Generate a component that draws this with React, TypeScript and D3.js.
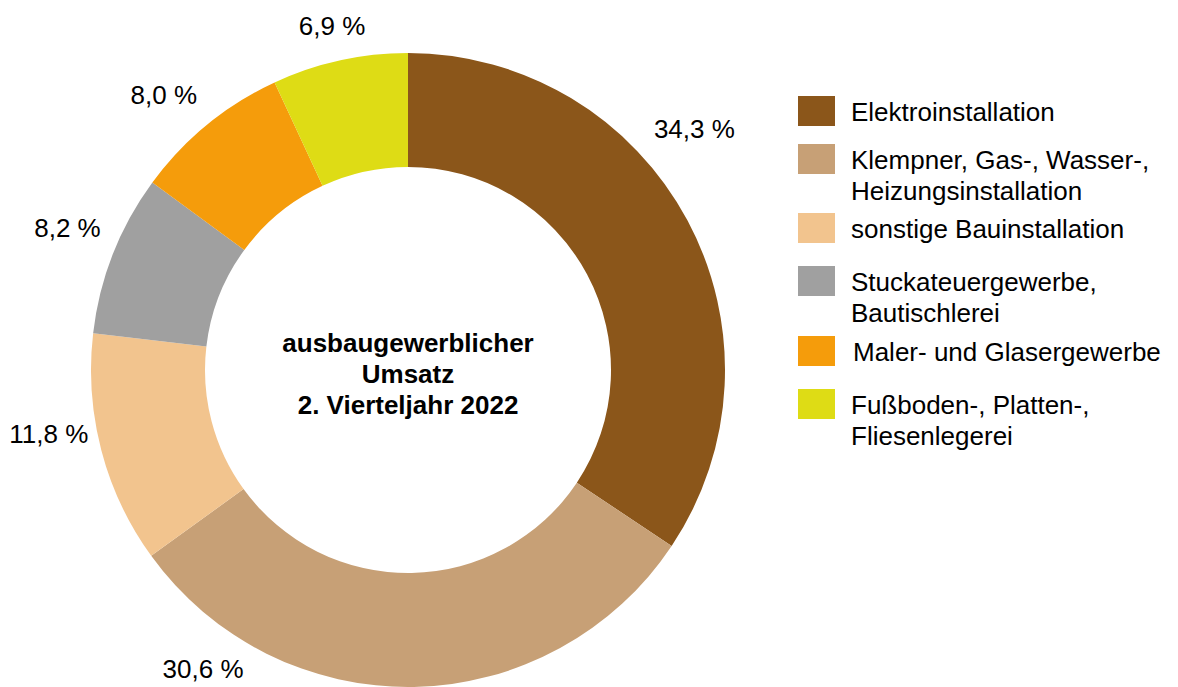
import React from "react";
import * as d3 from "d3";

const categories = [
  "Elektroinstallation",
  "Klempner, Gas-, Wasser-, Heizungsinstallation",
  "sonstige Bauinstallation",
  "Stuckateuergewerbe, Bautischlerei",
  "Maler- und Glasergewerbe",
  "Fußboden-, Platten-, Fliesenlegerei",
];
const values = [34.3, 30.6, 11.8, 8.2, 8.0, 6.9];
const valueLabels = ["34,3 %", "30,6 %", "11,8 %", "8,2 %", "8,0 %", "6,9 %"];
const legendLines = [
  ["Elektroinstallation"],
  ["Klempner, Gas-, Wasser-,", "Heizungsinstallation"],
  ["sonstige Bauinstallation"],
  ["Stuckateuergewerbe,", "Bautischlerei"],
  ["Maler- und Glasergewerbe"],
  ["Fußboden-, Platten-,", "Fliesenlegerei"],
];
const colors = ["#8B561A", "#C7A076", "#F2C48E", "#A0A0A0", "#F59C0B", "#DEDC15"];
const centerTitle = ["ausbaugewerblicher", "Umsatz", "2. Vierteljahr 2022"];

// label layout: angle shift from slice mid-angle (deg) and distance of label center
const labelShift = [-12, 35.6, 4.6, 1.3, -2.2, 0];
const labelRadius = [374.6, 361.7, 364.8, 369.3, 368.4, 352.4];
const legendTop = [96, 144, 213, 266, 336, 389];
const legendTextDx = [0, 0, 0, 0, 2, 0];

const FONT = "'Liberation Sans', Arial, sans-serif";

export default function App() {
  const W = 1178;
  const H = 687;
  const cx = 408;
  const cy = 370;
  const outerR = 317;
  const innerR = 203;

  const pie = d3
    .pie<number>()
    .sort(null)
    .value((d) => d);
  const arcs = pie(values);
  const arc = d3
    .arc<d3.PieArcDatum<number>>()
    .innerRadius(innerR)
    .outerRadius(outerR);

  return (
    <svg
      width={W}
      height={H}
      style={{ position: "absolute", left: 0, top: 0, display: "block" }}
      fontFamily={FONT}
    >
      <rect width={W} height={H} fill="#ffffff" />
      <g transform={`translate(${cx},${cy})`}>
        {arcs.map((a, i) => (
          <path key={i} d={arc(a) || ""} fill={colors[i]} />
        ))}
        {arcs.map((a, i) => {
          const mid = (a.startAngle + a.endAngle) / 2 + (labelShift[i] * Math.PI) / 180;
          const r = labelRadius[i];
          const x = r * Math.sin(mid);
          const y = -r * Math.cos(mid);
          return (
            <text
              key={"l" + i}
              x={x}
              y={y + 9.5}
              textAnchor="middle"
              fontSize={26}
              fill="#000"
            >
              {valueLabels[i]}
            </text>
          );
        })}
        {centerTitle.map((t, i) => (
          <text
            key={"c" + i}
            x={0}
            y={352 - cy + i * 31}
            textAnchor="middle"
            fontSize={26}
            fontWeight="bold"
            fill="#000"
          >
            {t}
          </text>
        ))}
      </g>
      <g>
        {categories.map((c, i) => (
          <g key={c}>
            <rect x={798} y={legendTop[i]} width={37} height={30} fill={colors[i]} />
            {legendLines[i].map((ln, j) => (
              <text
                key={j}
                x={851 + legendTextDx[i]}
                y={legendTop[i] + 25 + j * 31}
                fontSize={26}
                fill="#000"
              >
                {ln}
              </text>
            ))}
          </g>
        ))}
      </g>
    </svg>
  );
}
